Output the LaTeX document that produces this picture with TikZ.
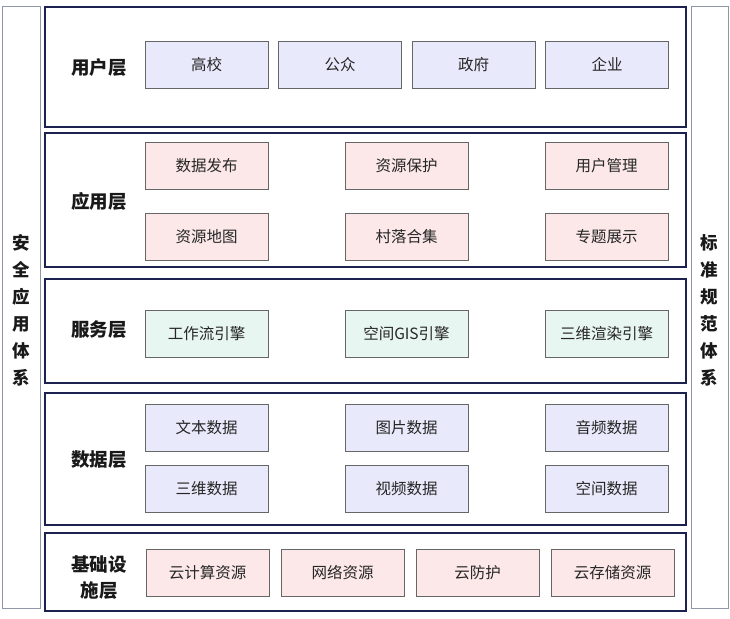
\documentclass[tikz,border=0pt]{standalone}
\usepackage{fontspec}
\setmainfont{Noto Sans CJK SC}
\begin{document}
\begin{tikzpicture}[x=1pt,y=-1pt,
  side/.style={line width=1pt, fill=white},
  layer/.style={draw=navy, line width=1.6pt, fill=white},
  item/.style={draw=black!60, line width=0.8pt, minimum width=123pt, minimum height=47pt, inner sep=0pt, font=\fontsize{15.5}{18}\selectfont, text=black!85},
  blu/.style={item, fill=lav},
  pnk/.style={item, fill=pnkc},
  grn/.style={item, fill=mint},
  lbl/.style={font=\fontsize{18.5}{26}\selectfont\bfseries, align=center, text=black!90},
  sidetxt/.style={font=\fontsize{17.5}{27}\selectfont\bfseries, align=center, text=black!90}
]
\definecolor{navy}{HTML}{1C2150}
\definecolor{lav}{HTML}{E8EAFB}
\definecolor{pnkc}{HTML}{FCE8E8}
\definecolor{mint}{HTML}{E8F6F1}
\definecolor{sidegray}{HTML}{9097A8}
\useasboundingbox (0,0) rectangle (730,618);
\fill[white] (0,0) rectangle (730,618);
% side panels
\draw[side, draw=sidegray] (2,7) rectangle (40,608);
\draw[side, draw=sidegray] (691,7) rectangle (728,608);
\node[sidetxt] (sl) at (21,310) {安\\全\\应\\用\\体\\系};
\node[sidetxt] (sr) at (709.5,310) {标\\准\\规\\范\\体\\系};
% layers
\draw[layer] (45,7) rectangle (686,127);
\draw[layer] (45,133) rectangle (686,267);
\draw[layer] (45,279) rectangle (686,383);
\draw[layer] (45,393) rectangle (686,525);
\draw[layer] (45,533) rectangle (686,611);
% labels
\node[lbl] (l1) at (99,68) {用户层};
\node[lbl] (l2) at (99,201) {应用层};
\node[lbl] (l3) at (99,330) {服务层};
\node[lbl] (l4) at (99,460) {数据层};
\node[lbl] (l5) at (99,578) {基础设\\施层};
% user layer
\node[blu] (u1) at (206.5,64.5) {高校};
\node[blu] (u2) at (340,64.5) {公众};
\node[blu] (u3) at (473.5,64.5) {政府};
\node[blu] (u4) at (607,64.5) {企业};
% app layer
\node[pnk] (a1) at (206.5,165.5) {数据发布};
\node[pnk] (a2) at (406.5,165.5) {资源保护};
\node[pnk] (a3) at (606.5,165.5) {用户管理};
\node[pnk] (a4) at (206.5,237) {资源地图};
\node[pnk] (a5) at (406.5,237) {村落合集};
\node[pnk] (a6) at (606.5,237) {专题展示};
% service
\node[grn] (s1) at (206.5,333.5) {工作流引擎};
\node[grn] (s2) at (406.5,333.5) {空间GIS引擎};
\node[grn] (s3) at (606.5,333.5) {三维渲染引擎};
% data
\node[blu] (d1) at (206.5,428) {文本数据};
\node[blu] (d2) at (406.5,428) {图片数据};
\node[blu] (d3) at (606.5,428) {音频数据};
\node[blu] (d4) at (206.5,489) {三维数据};
\node[blu] (d5) at (406.5,489) {视频数据};
\node[blu] (d6) at (606.5,489) {空间数据};
% infra
\node[pnk] (i1) at (207.5,572.5) {云计算资源};
\node[pnk] (i2) at (342.5,572.5) {网络资源};
\node[pnk] (i3) at (477.5,572.5) {云防护};
\node[pnk] (i4) at (612.5,572.5) {云存储资源};
\end{tikzpicture}
\end{document}
